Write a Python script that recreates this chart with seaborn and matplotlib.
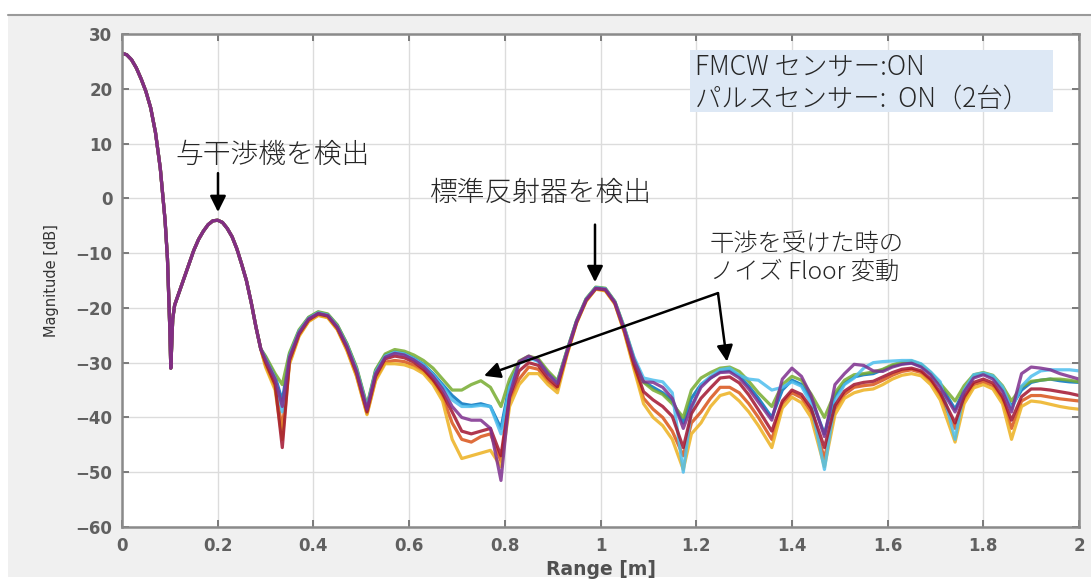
import pandas as pd
import matplotlib.pyplot as plt
import seaborn as sns
from matplotlib.patches import Rectangle
from matplotlib.lines import Line2D

# 共通部分 (0 - 0.29 m): 全トレースがほぼ一致
head_range = [0.00, 0.01, 0.02, 0.03, 0.04, 0.05, 0.06, 0.07, 0.08, 0.09,
              0.095, 0.10, 0.102, 0.106, 0.11, 0.12, 0.13, 0.14, 0.15, 0.16,
              0.17, 0.18, 0.19, 0.20, 0.21, 0.22, 0.23, 0.24, 0.25, 0.26,
              0.27, 0.28, 0.29]
head_db = [26.5, 26.2, 25.3, 23.8, 21.8, 19.5, 16.5, 12.0, 5.5, -4.0,
           -11.0, -24.0, -31.0, -22.0, -19.5, -17.0, -14.5, -12.0, -9.5, -7.5,
           -6.0, -4.8, -4.1, -4.0, -4.4, -5.5, -7.0, -9.2, -12.0, -15.0,
           -19.0, -23.5, -27.5]

# 0.30 m 以降: トレースごとにばらつく
tail_range = [0.30, 0.32, 0.335, 0.35, 0.37, 0.39, 0.41, 0.43, 0.45, 0.47,
              0.49, 0.512, 0.53, 0.55, 0.57, 0.59, 0.61, 0.63, 0.65, 0.67,
              0.69, 0.71, 0.73, 0.75, 0.77, 0.792, 0.81, 0.83, 0.85, 0.87,
              0.89, 0.91, 0.93, 0.95, 0.97, 0.99, 1.01, 1.03, 1.05, 1.07,
              1.09, 1.11, 1.13, 1.15, 1.173, 1.19, 1.21, 1.23, 1.25, 1.27,
              1.29, 1.31, 1.33, 1.358, 1.38, 1.40, 1.42, 1.44, 1.468, 1.49,
              1.51, 1.53, 1.55, 1.57, 1.59, 1.61, 1.63, 1.65, 1.67, 1.69,
              1.71, 1.741, 1.76, 1.78, 1.80, 1.82, 1.84, 1.859, 1.88, 1.90,
              1.92, 1.94, 1.96, 1.98, 2.00]

tail_blue = [-29, -32.5, -37, -28.5, -24.2, -21.8, -20.8, -21.2, -23.2, -26.6,
             -31, -38, -31.5, -28.6, -28, -28.3, -29.2, -30.3, -32, -34,
             -36, -37.5, -37.8, -37.5, -38, -42, -34, -30, -29, -29.6,
             -31.8, -33.5, -27.8, -22.4, -18.4, -16.3, -16.5, -18.9, -23.8, -29.5,
             -33.5, -34.5, -35.5, -37, -41, -36.5, -34, -32.8, -31.6, -31.4,
             -32.4, -34.3, -36.5, -40, -35, -33.2, -34, -36.5, -43, -36,
             -33.8, -32.6, -32.2, -32, -31.3, -30.6, -30.2, -30, -30.6, -32,
             -34, -38.5, -35, -32.5, -32, -32.6, -34.8, -38, -35, -33.6,
             -33.2, -33, -33.3, -33.5, -33.6]
tail_orange = [-30.5, -34.5, -42, -30, -25, -22.4, -21.3, -21.7, -23.9, -27.6,
               -32.3, -39.3, -33, -29.9, -29.6, -29.8, -30.5, -31.6, -33.4, -36.2,
               -41, -44, -44.5, -43.5, -43, -48, -37, -33, -30.8, -31.2,
               -33.4, -34.8, -28.4, -22.7, -18.7, -16.5, -16.8, -19.2, -24.4, -30.8,
               -36.5, -38.5, -40, -42.5, -47, -41, -39, -36.5, -34.5, -34.5,
               -35.5, -37.5, -40, -44, -37.5, -35.5, -36.4, -39, -47.5, -38.5,
               -35.8, -34.5, -34.2, -34, -33.2, -32.3, -31.6, -31.3, -31.8, -33.4,
               -36, -42, -36.8, -34, -33.5, -34.2, -36.8, -42, -37, -36,
               -36, -36.3, -36.6, -36.8, -37]
tail_yellow = [-30.8, -35, -44, -30.3, -25.2, -22.5, -21.4, -21.8, -24, -27.8,
               -32.5, -39.5, -33.3, -30.2, -30.2, -30.4, -31, -32, -34, -37,
               -44, -47.5, -47, -46.5, -46, -49, -38, -34, -32, -32,
               -34, -35.5, -28.6, -22.8, -18.8, -16.6, -16.9, -19.3, -24.6, -31.2,
               -37.5, -40, -41.5, -44, -49.5, -43, -41, -38, -36, -35.5,
               -37, -39, -41.5, -45.5, -38.3, -36.3, -37.3, -40, -49, -39.5,
               -36.5, -35.5, -35, -34.8, -34, -33, -32.3, -32, -32.4, -34,
               -36.8, -44.5, -37.5, -34.6, -34, -34.8, -37.5, -44, -38, -37,
               -37.2, -37.6, -38, -38.3, -38.5]
tail_green = [-28.8, -32, -34, -28.2, -24, -21.7, -20.7, -21.1, -23.1, -26.5,
              -30.8, -37.8, -31.3, -28.4, -27.6, -27.9, -28.6, -29.6, -31, -33,
              -35, -35, -34, -33.3, -34.5, -38, -33, -29.7, -28.8, -29.3,
              -31.5, -33.3, -27.7, -22.3, -18.3, -16.2, -16.4, -18.8, -23.6, -29.2,
              -33.6, -35, -35.8, -37.5, -40, -35, -32.8, -31.8, -31, -30.8,
              -31.6, -33.4, -35.5, -38, -34, -32.5, -33.2, -35.7, -40, -35.5,
              -33.2, -32.2, -32, -31.7, -31.2, -30.4, -29.9, -29.7, -30.3, -31.8,
              -33.8, -37, -34.2, -32.2, -31.8, -32.3, -34.2, -37, -34.4, -33.4,
              -33.2, -33, -33, -33.2, -33.5]
tail_cyan = [-29.3, -32.8, -39, -28.8, -24.3, -21.9, -20.9, -21.3, -23.4, -26.8,
             -31.2, -38.2, -31.7, -28.8, -28.1, -28.4, -29.3, -30.4, -32.2, -34.3,
             -36.8, -38, -38, -37.8, -38, -43, -34.5, -30.2, -29.1, -29.8,
             -32, -33.7, -27.9, -22.4, -18.4, -16.3, -16.5, -18.9, -23.7, -29,
             -32.8, -33.2, -33.5, -35.5, -50, -38.5, -34, -32.5, -31.3, -31,
             -32.3, -33, -33.2, -35, -34.5, -33.5, -34.3, -37.5, -49.5, -37,
             -34, -32.8, -31, -30, -29.8, -29.7, -29.6, -29.6, -30.2, -31.7,
             -33.5, -44, -35, -32.2, -31.9, -32.4, -34.4, -38.5, -34.3, -32.5,
             -31.5, -31.3, -31.3, -31.3, -31.5]
tail_red = [-30, -34, -45.5, -29.6, -24.8, -22.2, -21.1, -21.5, -23.7, -27.3,
            -31.9, -39, -32.5, -29.3, -28.8, -29.1, -29.9, -31.2, -33.1, -35.6,
            -39, -42.5, -43, -42.5, -42, -47, -36.2, -31.5, -30, -30.5,
            -32.8, -34.4, -28.2, -22.6, -18.6, -16.5, -16.7, -19.1, -24.2, -30.4,
            -35.3, -36.8, -38, -39.8, -45.5, -39.3, -36.5, -34.6, -32.8, -32.6,
            -33.7, -35.9, -38.6, -42.5, -37, -35, -35.8, -38.3, -45.5, -37.8,
            -35.2, -34, -33.6, -33.4, -32.6, -31.8, -31.2, -31, -31.5, -33,
            -35.5, -41, -36.2, -33.6, -33, -33.7, -36.2, -40.5, -36.2, -34.8,
            -34.8, -35, -35.3, -35.6, -36]
tail_purple = [-29.4, -33, -38, -29, -24.5, -22, -21, -21.4, -23.5, -27,
               -31.5, -38.5, -32, -29, -28.3, -28.6, -29.5, -30.7, -32.5, -34.8,
               -38, -40, -40.5, -40.5, -42, -51.5, -36, -29.8, -28.8, -29.6,
               -32, -33.8, -28, -22.5, -18.5, -16.4, -16.6, -19, -24, -29.5,
               -33.5, -33.6, -34.5, -36.5, -42, -38, -34.5, -32.8, -31.8, -31.7,
               -32.8, -34.8, -37.2, -40.5, -33, -31, -32.5, -36, -43.5, -34,
               -32, -30.3, -30.5, -31.5, -31.6, -30.8, -30.3, -30.1, -30.8, -32.2,
               -34.5, -39, -35.3, -32.8, -32.2, -33, -35.2, -39, -32, -30.8,
               -31, -31.3, -32, -32.5, -33]

trace_names = ["t1", "t2", "t3", "t4", "t5", "t6", "t7"]
trace_tails = [tail_blue, tail_orange, tail_yellow, tail_green, tail_cyan, tail_red, tail_purple]
# MATLAB の既定カラー順
trace_colors = ["#0072BD", "#D95319", "#EDB120", "#77AC30", "#4DBEEE", "#A2142F", "#7E2F8E"]

rows = []
for name, tail in zip(trace_names, trace_tails):
    rows.append(pd.DataFrame({"trace": name,
                              "range": head_range + tail_range,
                              "db": head_db + tail}))
df = pd.concat(rows, ignore_index=True)

sns.set_theme(style="ticks")
plt.rcParams["font.family"] = ["Noto Sans CJK JP", "DejaVu Sans"]
plt.rcParams["axes.unicode_minus"] = True

W, H = 1091, 581
fig = plt.figure(figsize=(W / 100, H / 100), dpi=100)
fig.patch.set_facecolor("white")
# MATLAB figure の灰色背景と上端の線
bg = Rectangle((8 / W, 4 / H), 1 - 8 / W, (H - 15 - 4) / H,
               transform=fig.transFigure, facecolor="#f0f0f0",
               edgecolor="none", zorder=-10)
fig.patches.append(bg)
fig.lines.append(Line2D([8 / W, 1], [1 - 15 / H, 1 - 15 / H], transform=fig.transFigure,
                        color="#9a9a9a", lw=1.5, zorder=-9))

ax = fig.add_axes([122 / W, 54 / H, 957 / W, 493 / H])
ax.set_facecolor("white")

sns.lineplot(data=df, x="range", y="db", hue="trace", hue_order=trace_names,
             palette=dict(zip(trace_names, trace_colors)), estimator=None,
             legend=False, lw=2.3, alpha=0.85, ax=ax)

ax.set_xlim(0, 2)
ax.set_ylim(-60, 30)
xt = [0, 0.2, 0.4, 0.6, 0.8, 1.0, 1.2, 1.4, 1.6, 1.8, 2.0]
ax.set_xticks(xt)
ax.set_xticklabels(["0", "0.2", "0.4", "0.6", "0.8", "1", "1.2", "1.4", "1.6", "1.8", "2"])
ax.set_yticks(range(-60, 31, 10))
ax.grid(True, color="#dcdcdc", lw=1.0)
ax.set_axisbelow(True)
for s in ax.spines.values():
    s.set_visible(True)
    s.set_color("#8a8a8a")
    s.set_linewidth(1.8)
ax.tick_params(direction="in", length=5, width=1.4, color="#7a7a7a",
               top=True, right=True, labelcolor="#606060", pad=7)
for lab in ax.get_xticklabels() + ax.get_yticklabels():
    lab.set_family("DejaVu Sans")
    lab.set_fontweight("bold")
    lab.set_fontsize(12)

ax.set_xlabel("Range [m]", family="DejaVu Sans", fontsize=13.5, fontweight="bold", color="#505050")
ax.set_ylabel("Magnitude [dB]", family="DejaVu Sans", fontsize=10.5, color="#333333")
ax.xaxis.set_label_coords(0.5, -0.066)
ax.yaxis.set_label_coords(-0.066, 0.5)

# 注記
jp = ["Noto Sans CJK JP", "DejaVu Sans"]
arrow = dict(arrowstyle="-|>", color="black", lw=1.8, mutation_scale=24, shrinkA=0, shrinkB=0)

ax.text(0.111, 7.9, "与干渉機を検出", fontsize=20, family=jp, fontweight="light",
        va="center", ha="left")
ax.annotate("", xy=(0.2006, -2.5), xytext=(0.2006, 4.6), arrowprops=arrow)

ax.text(0.644, 1.0, "標準反射器を検出", fontsize=20, family=jp, fontweight="light",
        va="center", ha="left")
ax.annotate("", xy=(0.9885, -15.3), xytext=(0.9885, -4.8), arrowprops=arrow)

ax.text(1.229, -8.4, "干渉を受けた時の", fontsize=17.5, family=jp, fontweight="light",
        va="center", ha="left")
ax.text(1.229, -13.5, "ノイズ Floor 変動", fontsize=17.5, family=jp, fontweight="light",
        va="center", ha="left")
ax.annotate("", xy=(0.7565, -32.4), xytext=(1.2455, -17.3), arrowprops=arrow)
ax.annotate("", xy=(1.2644, -29.8), xytext=(1.2455, -17.3), arrowprops=arrow)

ax.add_patch(Rectangle((0.5935, 0.8418), 0.3793, 0.1257, transform=ax.transAxes,
                       facecolor="#dde8f5", edgecolor="none", zorder=5))
ax.text(0.5987, 0.933, "FMCW センサー:ON", transform=ax.transAxes, fontsize=19,
        family=jp, fontweight="light", va="center", ha="left", zorder=6)
ax.text(0.5987, 0.870, "パルスセンサー:  ON（2台）", transform=ax.transAxes, fontsize=19,
        family=jp, fontweight="light", va="center", ha="left", zorder=6)

fig.savefig("out.png", dpi=100)
